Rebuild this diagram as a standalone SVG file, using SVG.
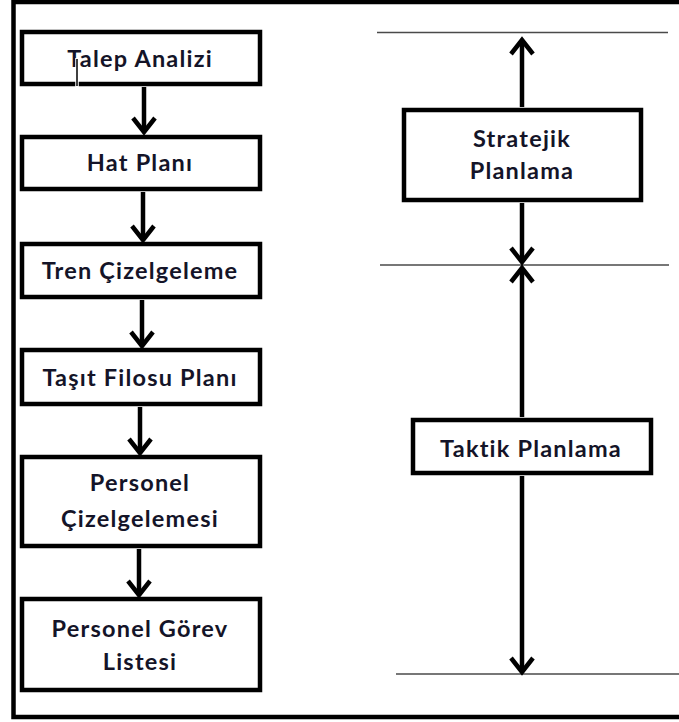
<svg xmlns="http://www.w3.org/2000/svg" width="679" height="722" viewBox="0 0 679 722">
<style>
.box{fill:#fff;stroke:#000;stroke-width:4.5}
.t{font-family:Lato,"Open Sans",sans-serif;font-weight:bold;font-size:23.5px;letter-spacing:1.2px;fill:#141428;text-anchor:middle}
.sh{stroke:#000;stroke-width:4.5;fill:none}
.hd{stroke:#000;stroke-width:4.5;fill:none;stroke-linejoin:miter;stroke-linecap:butt}
.ln{stroke:#4a4a4a;stroke-width:1.6}
</style>
<rect x="0" y="0" width="679" height="722" fill="#fff"/>
<rect x="13.5" y="2" width="700" height="715" fill="none" stroke="#000" stroke-width="4.5"/>
<g id="levels">
<line class="ln" x1="377" y1="32.5" x2="668" y2="32.5"/>
<line class="ln" x1="380" y1="265" x2="669" y2="265"/>
<line class="ln" x1="396" y1="674" x2="679" y2="674"/>
</g>
<g id="connectors">
<line class="sh" x1="144" y1="87" x2="144" y2="132"/>
<path class="hd" d="M133,118 L144,132 L155,118"/>
<line class="sh" x1="143" y1="192" x2="143" y2="240"/>
<path class="hd" d="M132,226 L143,240 L154,226"/>
<line class="sh" x1="142" y1="300" x2="142" y2="346"/>
<path class="hd" d="M131,332 L142,346 L153,332"/>
<line class="sh" x1="140" y1="407" x2="140" y2="453"/>
<path class="hd" d="M129,439 L140,453 L151,439"/>
<line class="sh" x1="139" y1="549" x2="139" y2="595"/>
<path class="hd" d="M128,581 L139,595 L150,581"/>
<line class="sh" x1="522" y1="107" x2="522" y2="40"/>
<path class="hd" d="M511,54 L522,40 L533,54"/>
<line class="sh" x1="522" y1="203" x2="522" y2="262"/>
<path class="hd" d="M511,248 L522,262 L533,248"/>
<line class="sh" x1="522" y1="417" x2="522" y2="268"/>
<path class="hd" d="M511,282 L522,268 L533,282"/>
<line class="sh" x1="522" y1="476" x2="522" y2="672"/>
<path class="hd" d="M511,658 L522,672 L533,658"/>
</g>
<g id="n1"><rect class="box" x="22" y="32" width="238" height="52"/><text class="t" x="140" y="67">Talep Analizi</text></g>
<g id="n2"><rect class="box" x="22" y="137" width="238" height="52"/><text class="t" x="140" y="171">Hat Planı</text></g>
<g id="n3"><rect class="box" x="22" y="244" width="238" height="53"/><text class="t" x="140" y="279">Tren Çizelgeleme</text></g>
<g id="n4"><rect class="box" x="22" y="350" width="238" height="54"/><text class="t" x="140" y="386">Taşıt Filosu Planı</text></g>
<g id="n5"><rect class="box" x="22" y="457" width="238" height="89"/><text class="t" x="140" y="491">Personel</text><text class="t" x="140" y="527">Çizelgelemesi</text></g>
<g id="n6"><rect class="box" x="22" y="599" width="238" height="91"/><text class="t" x="140" y="637">Personel Görev</text><text class="t" x="140" y="670">Listesi</text></g>
<g id="n7"><rect class="box" x="404" y="110" width="237" height="90"/><text class="t" x="522" y="147">Stratejik</text><text class="t" x="522" y="179">Planlama</text></g>
<g id="n8"><rect class="box" x="413" y="420" width="238" height="53"/><text class="t" x="531" y="457">Taktik Planlama</text></g>
<g id="cursor"><line x1="77" y1="58" x2="77" y2="87" stroke="#fff" stroke-width="3.5"/><line x1="77" y1="59" x2="77" y2="86" stroke="#000" stroke-width="1.5"/></g>
</svg>
